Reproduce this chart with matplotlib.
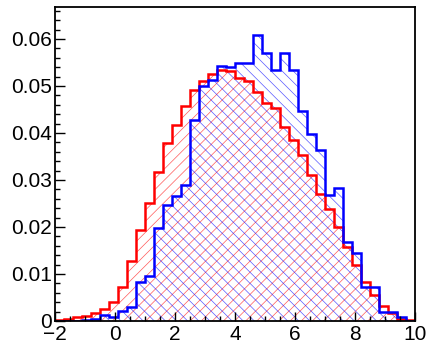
import numpy as np
import matplotlib
matplotlib.use("Agg")
import matplotlib.pyplot as plt
from matplotlib.ticker import MultipleLocator

# --- data (40 bins from -2 to 10) ---
bin_edges = np.linspace(-2, 10, 41)

red_values = [
    0.0003, 0.0005, 0.0008, 0.0011, 0.0016, 0.0026, 0.0040, 0.0072, 0.0128, 0.0194,
    0.0250, 0.0316, 0.0378, 0.0417, 0.0457, 0.0491, 0.0510, 0.0526, 0.0533, 0.0531,
    0.0518, 0.0511, 0.0488, 0.0464, 0.0453, 0.0413, 0.0384, 0.0353, 0.0310, 0.0270,
    0.0239, 0.0200, 0.0157, 0.0120, 0.0084, 0.0055, 0.0031, 0.0016, 0.0005, 0.0002,
]
blue_values = [
    0.0001, 0.0001, 0.0001, 0.0003, 0.0004, 0.0013, 0.0009, 0.0022, 0.0030, 0.0082,
    0.0096, 0.0197, 0.0246, 0.0265, 0.0290, 0.0428, 0.0499, 0.0513, 0.0542, 0.0540,
    0.0549, 0.0548, 0.0608, 0.0571, 0.0535, 0.0570, 0.0534, 0.0446, 0.0397, 0.0363,
    0.0267, 0.0284, 0.0169, 0.0144, 0.0073, 0.0072, 0.0020, 0.0020, 0.0008, 0.0001,
]

x_ticks = [-2, 0, 2, 4, 6, 8, 10]
x_tick_labels = ["\u22122", "0", "2", "4", "6", "8", "10"]
y_ticks = [0, 0.01, 0.02, 0.03, 0.04, 0.05, 0.06]
y_tick_labels = ["0", "0.01", "0.02", "0.03", "0.04", "0.05", "0.06"]

# --- style ---
plt.rcParams["font.family"] = ["Liberation Sans", "DejaVu Sans"]
plt.rcParams["hatch.linewidth"] = 0.5

fig = plt.figure(figsize=(4.34, 3.45), dpi=100)
ax = fig.add_axes([55 / 434, 24 / 345, 360 / 434, 314 / 345])

# --- histograms: hatch fill then outline ---
hatch_styles = [(red_values, (1, 0, 0, 0.65), "///"), (blue_values, (0, 0, 1, 0.65), "\\\\\\")]
for vals, col, hatch in hatch_styles:
    vals = np.asarray(vals)
    ax.fill_between(bin_edges, np.append(vals, vals[-1]), step="post",
                    facecolor="none", edgecolor=col, hatch=hatch, linewidth=0)
for vals, col in [(red_values, "red"), (blue_values, "blue")]:
    ax.stairs(vals, bin_edges, color=col, linewidth=1.8)

# --- axes ---
ax.set_xlim(-2, 10)
ax.set_ylim(0, 0.0668)
ax.set_xticks(x_ticks)
ax.set_xticklabels(x_tick_labels)
ax.set_yticks(y_ticks)
ax.set_yticklabels(y_tick_labels)
ax.xaxis.set_minor_locator(MultipleLocator(0.5))
ax.yaxis.set_minor_locator(MultipleLocator(0.002))

ax.tick_params(axis="both", which="both", direction="in", top=False, right=False,
               width=1.0, labelsize=15)
ax.tick_params(axis="x", which="major", length=6.5, pad=3)
ax.tick_params(axis="x", which="minor", length=3.5)
ax.tick_params(axis="y", which="major", length=7.2, pad=2)
ax.tick_params(axis="y", which="minor", length=3.6)

for sp in ax.spines.values():
    sp.set_linewidth(1.3)

plt.savefig("out.png", dpi=100)
